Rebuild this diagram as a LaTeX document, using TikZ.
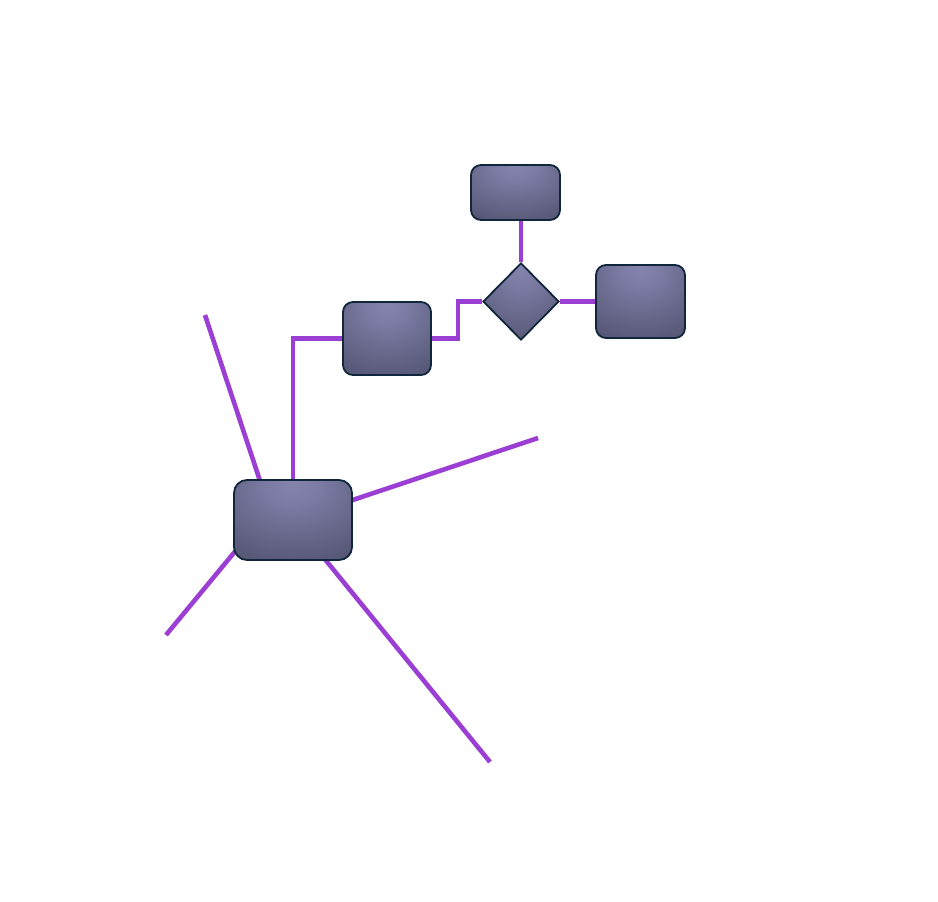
\documentclass[tikz,border=0pt]{standalone}
\usepackage{xcolor}
\usetikzlibrary{shapes.geometric, positioning, backgrounds, calc}
\definecolor{boxLight}{HTML}{8484AE}
\definecolor{boxDark}{HTML}{44445F}
\definecolor{boxLine}{HTML}{10263A}
\definecolor{wire}{HTML}{9B3FD4}
\pgfdeclareradialshading{boxglow}{\pgfpoint{0bp}{24bp}}{%
  color(0bp)=(boxLight); color(12bp)=(boxLight!85!boxDark);
  color(58bp)=(boxDark); color(100bp)=(boxDark)}
\tikzset{
  block/.style={rectangle, rounded corners=10pt, draw=boxLine, line width=1.8pt,
                shading=boxglow, inner sep=0pt},
  hubBlock/.style={block, rounded corners=13pt,
                   minimum width=118pt, minimum height=80pt},
  gate/.style={diamond, draw=boxLine, line width=1.8pt, shading=boxglow,
               inner sep=0pt, minimum width=76pt, minimum height=77pt},
  wireL/.style={draw=wire, line width=4.6pt},
}

\begin{document}
\begin{tikzpicture}[x=1pt, y=-1pt]
    \useasboundingbox (0,0) rectangle (938,902);
    %% blocks
    \node[hubBlock] (hub) at (293,520) {};
    \node[block, minimum width=88pt, minimum height=73pt] (mid) at (387,338.5) {};
    \node[gate] (dia) at (521,301.5) {};
    \node[block, minimum width=89pt, minimum height=55pt] (top) at (515.5,192.5) {};
    \node[block, minimum width=89pt, minimum height=73pt] (right) at (640.5,301.5) {};
    %% loose ends
    \coordinate (endNW) at (205,315);
    \coordinate (endE)  at (538,438);
    \coordinate (endSW) at (166,635);
    \coordinate (endS)  at (490,762);
    %% wires
    \begin{scope}[on background layer]
      \draw[wireL] (endNW) -- ($(hub.center)+(-20,0)$);
      \draw[wireL] (endSW) -- ($(hub.center)+(-32,0)$);
      \draw[wireL] (hub.center) -- (endE);
      \draw[wireL] (hub.center) -- (endS);
      \draw[wireL] (hub.center) |- (mid.west);
      \draw[wireL] (mid.east) -- ++(26,0) |- (dia.west);
      \draw[wireL] (dia.north) -- (dia.north |- top.south);
      \draw[wireL] (dia.east) -- (right.west);
    \end{scope}
\end{tikzpicture}
\end{document}
